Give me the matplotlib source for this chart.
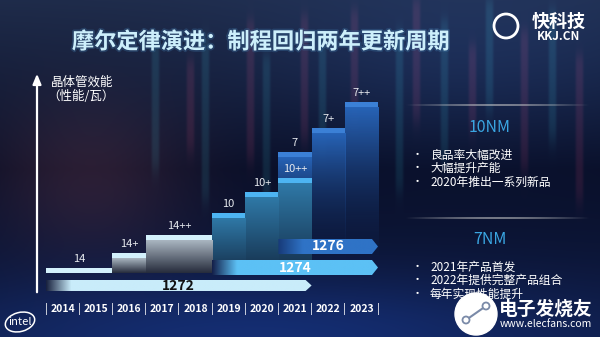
import numpy as np
import matplotlib
matplotlib.use("Agg")
import matplotlib.pyplot as plt
from matplotlib.patches import Polygon, Ellipse, Circle
from matplotlib.colors import to_rgba
from matplotlib import patheffects as pe

plt.rcParams['font.family'] = ['Noto Sans CJK SC', 'DejaVu Sans']

# ---------------- data ----------------
title = "摩尔定律演进：制程回归两年更新周期"
axis_label = ["晶体管效能", "（性能/瓦）"]
years = [2014, 2015, 2016, 2017, 2018, 2019, 2020, 2021, 2022, 2023]

nodes = ["14", "14+", "14++", "10", "10+", "10++", "7", "7+", "7++"]
node_start = [2014, 2016, 2017, 2019, 2020, 2021, 2021, 2022, 2023]
node_end = [2016, 2017, 2019, 2020, 2021, 2022, 2022, 2023, 2024]
efficiency = [0.5, 2.0, 3.8, 6.0, 8.1, 9.5, 12.1, 14.5, 17.1]
node_family = ["14nm", "14nm", "14nm", "10nm", "10nm", "10nm", "7nm", "7nm", "7nm"]

processes = ["1272", "1274", "1276"]
process_start = [2014, 2019, 2021]
process_end = [2022, 2024, 2024]

panel_titles = ["10NM", "7NM"]
panel_10nm = ["良品率大幅改进", "大幅提升产能", "2020年推出一系列新品"]
panel_7nm = ["2021年产品首发", "2022年提供完整产品组合", "每年实现性能提升"]

# ---------------- styles ----------------
family_style = {
    # cap colour, body top colour, body bottom colour
    "14nm": ("#d3f1fc", "#aab6c1", "#262c3c"),
    "10nm": ("#4db4f2", "#2f78a6", "#15304c"),
    "7nm": ("#3b80d6", "#2763b6", "#0d1d45"),
}
process_style = {
    "1272": ("#c9ecfa", "#1a2340", "#111111", 1.1, -1.25),
    "1274": ("#5cc1f5", "#14204a", "white", 1.5, 0.55),
    "1276": ("#2f73c6", "#173a78", "white", 1.5, 2.65),
}

W, H = 600, 337
fig = plt.figure(figsize=(W / 100, H / 100), dpi=100)

# ---------------- background ----------------
bg = fig.add_axes([0, 0, 1, 1])
bg.set_xlim(0, W)
bg.set_ylim(H, 0)
bg.axis("off")

yy, xx = np.mgrid[0:H, 0:W].astype(float)


def blob(cx, cy, sx, sy):
    return np.exp(-(((xx - cx) / sx) ** 2 + ((yy - cy) / sy) ** 2) / 2)


t = yy / H
top = np.array([0.12, 0.17, 0.29])
mid = np.array([0.035, 0.055, 0.15])
bot = np.array([0.06, 0.11, 0.27])
w_top = np.clip(1 - t / 0.5, 0, 1)
w_bot = np.clip((t - 0.5) / 0.5, 0, 1)
w_mid = 1 - w_top - w_bot
img = (w_top[..., None] * top + w_mid[..., None] * mid + w_bot[..., None] * bot)
img += blob(90, 175, 70, 55)[..., None] * np.array([0.13, 0.06, 0.05])
img += blob(260, 330, 220, 40)[..., None] * np.array([0.02, 0.07, 0.18])
img += blob(470, 60, 160, 70)[..., None] * np.array([0.02, 0.05, 0.10])

# soft market-style stripes in the upper right of the backdrop
stripe_x = [155, 190, 205, 250, 266, 304, 322, 354, 399, 416, 444, 472, 489, 524, 552, 579]
stripe_top = [40, 60, 35, 20, 55, 15, 40, 10, 30, 0, 20, 45, 0, 30, 10, 55]
stripe_bot = [170, 150, 200, 160, 230, 140, 150, 120, 190, 120, 160, 130, 110, 170, 140, 200]
stripe_red = np.array([0.20, 0.05, 0.07])
stripe_green = np.array([0.04, 0.16, 0.15])
for k, (sx, st, sb) in enumerate(zip(stripe_x, stripe_top, stripe_bot)):
    col = stripe_green if k % 2 == 0 else stripe_red
    prof_x = np.exp(-((xx - sx) / 4.0) ** 4)
    prof_y = 1 / (1 + np.exp(-(yy - st) / 4)) * 1 / (1 + np.exp((yy - sb) / 6))
    img += (prof_x * prof_y)[..., None] * col * 0.55
img = np.clip(img, 0, 1)
bg.imshow(img, extent=(0, W, H, 0), aspect="auto", zorder=0, interpolation="bilinear")

# thin divider lines on the right panel
for ly in (105, 218):
    n = 200
    a = np.sin(np.linspace(0, np.pi, n)) * 0.55
    line = np.zeros((1, n, 4))
    line[..., :3] = 0.8
    line[0, :, 3] = a
    bg.imshow(line, extent=(405, 590, ly + 0.7, ly - 0.7), aspect="auto", zorder=2)

# title
bg.text(261, 42, title, fontsize=16, fontweight="bold", color="#cdeffb",
        ha="center", va="center", zorder=5,
        path_effects=[pe.withStroke(linewidth=2.5, foreground="#3b6fa0", alpha=0.35)])

# axis label
bg.text(51, 82, axis_label[0], fontsize=9, color="white", ha="left", va="center", zorder=5)
bg.text(47, 96, axis_label[1], fontsize=9, color="white", ha="left", va="center", zorder=5)

# right-hand panels
for py, ptitle, items in ((127, panel_titles[0], panel_10nm), (239, panel_titles[1], panel_7nm)):
    bg.text(490, py, ptitle, fontsize=11.5, color="#3aa6e2", ha="center", va="center", zorder=5)
    for i, s in enumerate(items):
        yy_i = py + 28 + i * 13.5
        bg.text(417, yy_i, "•", fontsize=8, color="white", ha="center", va="center", zorder=5)
        bg.text(430, yy_i, s, fontsize=8.5, color="white", ha="left", va="center", zorder=5)

# brand marks
bg.add_patch(Ellipse((20, 322), 30, 19, angle=-15, fill=False, ec="white", lw=1.1, zorder=5))
bg.text(20, 322, "intel", fontsize=8, color="white", ha="center", va="center", zorder=6)
bg.add_patch(Circle((506, 26), 12, fill=False, ec="white", lw=2.0, zorder=5))
bg.text(559, 21, "快科技", fontsize=13, fontweight="bold", color="white",
        ha="center", va="center", zorder=6)
bg.text(559, 37, "KKJ.CN", fontsize=8.5, fontweight="bold", color="white",
        ha="center", va="center", zorder=6)
bg.add_patch(Circle((476, 314), 21, color="white", zorder=7))
bg.plot([466, 486], [320, 306], color="#7a8aa8", lw=1.5, zorder=8)
bg.add_patch(Circle((466, 320), 3.5, fc="white", ec="#7a8aa8", lw=1.3, zorder=9))
bg.add_patch(Circle((486, 306), 3.5, fc="white", ec="#7a8aa8", lw=1.3, zorder=9))
bg.text(546, 309, "电子发烧友", fontsize=13.5, fontweight="bold", color="white",
        ha="center", va="center", zorder=7)
bg.text(546, 324, "www.elecfans.com", fontsize=7.5, color="white",
        ha="center", va="center", zorder=7)

# ---------------- chart ----------------
px_per_year = 33.2
x_left = 2014 - 9 / px_per_year
x_right = 2014 + 344 / px_per_year
ax = fig.add_axes([37 / W, (H - 300) / H, 353 / W, 230 / H])
ax.set_xlim(x_left, x_right)
ax.set_ylim(-2.7, 20.3)
ax.axis("off")
ax.patch.set_alpha(0)


def vgrad(x0, x1, y0, y1, c_top, c_bot, z):
    tt = np.linspace(0, 1, 64)[:, None]
    ct, cb = np.array(to_rgba(c_top)), np.array(to_rgba(c_bot))
    g = (ct * (1 - tt) + cb * tt)[:, None, :]
    ax.imshow(g, extent=(x0, x1, y0, y1), origin="upper", aspect="auto",
              interpolation="bilinear", zorder=z)


cap = 0.5
order = np.argsort(efficiency)[::-1]
for rank, i in enumerate(order):
    x0, x1, v = node_start[i], node_end[i], efficiency[i]
    c_cap, c_top, c_bot = family_style[node_family[i]]
    z = 3 + rank * 0.1
    if v > cap:
        bot_col = c_bot if node_family[i] != "7nm" else (0.05, 0.11, 0.27, 0.0)
        vgrad(x0, x1, 0, v - cap, c_top, bot_col, z)
    ax.fill_between([x0, x1], v - cap, v, color=c_cap, lw=0, zorder=z + 0.01)
    ax.text((x0 + x1) / 2, v + 0.9, nodes[i], fontsize=8, color="#e6e9ee",
            ha="center", va="center", zorder=10)

tip = 6 / px_per_year
for name, x0, x1 in zip(processes, process_start, process_end):
    col, fade, tcol, h, yc = process_style[name]
    verts = [(x0, yc - h / 2), (x1 - tip, yc - h / 2), (x1, yc),
             (x1 - tip, yc + h / 2), (x0, yc + h / 2)]
    poly = Polygon(verts, closed=True, fc="none", ec="none")
    ax.add_patch(poly)
    n = 256
    xs = np.linspace(x0, x1, n)
    tt = np.clip((xs - x0) / 0.75, 0, 1)[None, :, None]
    g = np.array(to_rgba(fade)) * (1 - tt) + np.array(to_rgba(col)) * tt
    im = ax.imshow(g, extent=(x0, x1, yc - h / 2, yc + h / 2), aspect="auto",
                   interpolation="bilinear", zorder=6)
    im.set_clip_path(poly)
    ax.text((x0 + x1) / 2, yc, name, fontsize=10, fontweight="bold", color=tcol,
            ha="center", va="center", zorder=7)

# vertical efficiency axis
ax.annotate("", xy=(x_left, 20.2), xytext=(x_left, -2.2),
            arrowprops=dict(arrowstyle="-|>,head_width=0.25,head_length=0.6",
                            color="white", lw=1.6), zorder=8, annotation_clip=False)

# year row
yr_y = -3.6
for y in years:
    ax.text(y + 0.5, yr_y, str(y), fontsize=7.5, fontweight="bold", color="white",
            ha="center", va="center", clip_on=False, zorder=8)
for y in years + [years[-1] + 1]:
    ax.text(y, yr_y, "|", fontsize=8, color="white", ha="center", va="center",
            clip_on=False, zorder=8)

ax.set_xlim(x_left, x_right)
ax.set_ylim(-2.7, 20.3)

fig.savefig("out.png", dpi=100)
